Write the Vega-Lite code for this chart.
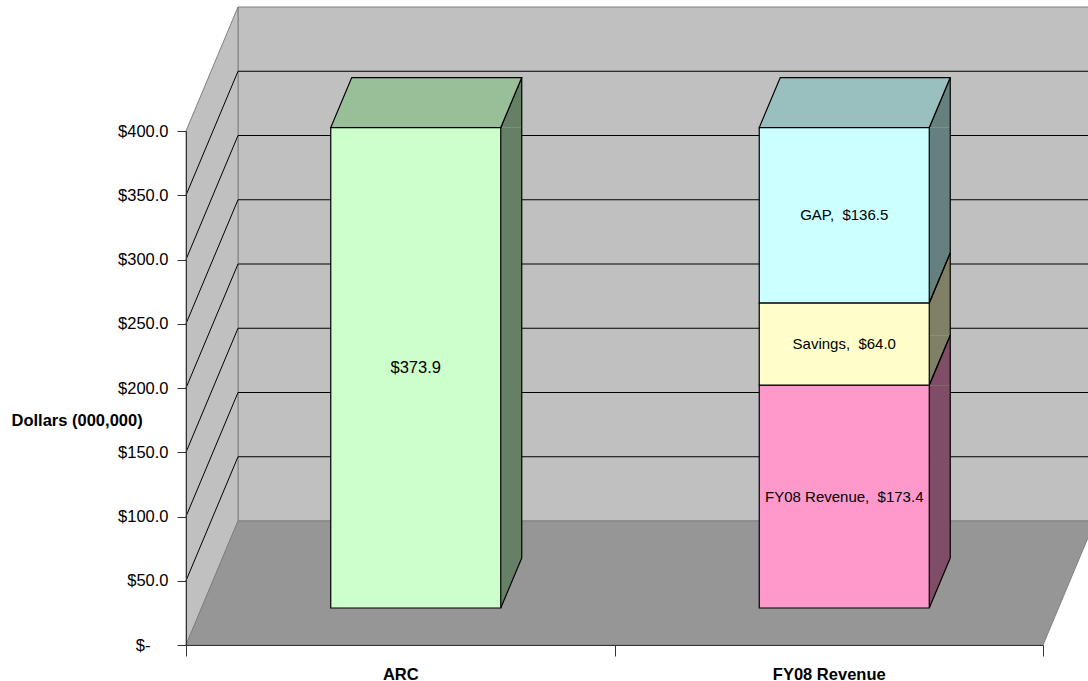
{
  "$schema": "https://vega.github.io/schema/vega-lite/v6.json",
  "width": 857,
  "height": 514,
  "autosize": {"type": "none"},
  "padding": {"left": 186, "top": 131, "right": 45, "bottom": 36},
  "background": "white",
  "config": {"view": {"stroke": null}, "font": "Liberation Sans"},
  "datasets": {
    "bars": [
      {"category": "ARC", "segment": "ARC", "order": 1, "value": 373.9, "label": "$373.9"},
      {"category": "FY08 Revenue", "segment": "FY08 Revenue", "order": 1, "value": 173.4, "label": "FY08 Revenue, \u00a0$173.4"},
      {"category": "FY08 Revenue", "segment": "Savings", "order": 2, "value": 64.0, "label": "Savings, \u00a0$64.0"},
      {"category": "FY08 Revenue", "segment": "GAP", "order": 3, "value": 136.5, "label": "GAP, \u00a0$136.5"}
    ],
    "grid": [{"v": 50}, {"v": 100}, {"v": 150}, {"v": 200}, {"v": 250}, {"v": 300}, {"v": 350}]
  },
  "resolve": {"scale": {"fill": "independent"}},
  "layer": [
    {
      "data": {"values": [{}]},
      "mark": {"type": "point", "shape": "M-162.25 -124 L694.75 -124 L694.75 -638 L-162.25 -638 Z", "size": 4, "filled": true, "fill": "#c0c0c0", "stroke": "#808080", "strokeWidth": 1, "opacity": 1},
      "encoding": {
        "x": {"datum": "ARC", "type": "nominal", "scale": {"type": "band", "domain": ["ARC", "FY08 Revenue"], "paddingInner": 0, "paddingOuter": 0},
          "axis": {"title": null, "tickBand": "extent", "labelAngle": 0, "labelFont": "Liberation Sans", "labelFontSize": 16.5, "labelFontWeight": "bold", "labelColor": "#000000", "labelBaseline": "top", "tickSize": 11, "labelPadding": 10, "domainColor": "#333333", "tickColor": "#333333", "grid": false, "zindex": 1}},
        "y": {"datum": 0, "type": "quantitative", "scale": {"domain": [0, 400], "nice": false, "zero": true},
          "axis": {"values": [0, 50, 100, 150, 200, 250, 300, 350, 400], "labelExpr": "datum.value == 0 ? '$-' : '$' + format(datum.value, ',.1f')", "labelFont": "Liberation Sans", "labelFontSize": 16.5, "labelColor": "#000000", "labelPadding": {"condition": {"test": "datum.value == 0", "value": 27}, "value": 9}, "tickSize": 9, "tickColor": "#333333", "domainColor": "#333333", "grid": false, "zindex": 1, "labelOverlap": false, "labelFlush": false,
            "title": "Dollars (000,000)", "titleAngle": 0, "titleAlign": "left", "titleBaseline": "middle", "titleX": -175, "titleY": 289, "titleFont": "Liberation Sans", "titleFontSize": 16.5, "titleFontWeight": "bold", "titleColor": "#000000"}}
      }
    },
    {
      "data": {"values": [{}]},
      "mark": {"type": "point", "shape": "M-214.25 0 L-214.25 -514 L-162.25 -638 L-162.25 -124 Z", "size": 4, "filled": true, "fill": "#c0c0c0", "stroke": "#808080", "strokeWidth": 1, "opacity": 1},
      "encoding": {
        "x": {"datum": "ARC", "type": "nominal"},
        "y": {"datum": 0, "type": "quantitative"}
      }
    },
    {
      "data": {"values": [{}]},
      "mark": {"type": "point", "shape": "M-214.25 0 L642.75 0 L694.75 -124 L-162.25 -124 Z", "size": 4, "filled": true, "fill": "#969696", "stroke": "#808080", "strokeWidth": 1, "opacity": 1},
      "encoding": {
        "x": {"datum": "ARC", "type": "nominal"},
        "y": {"datum": 0, "type": "quantitative"}
      }
    },
    {
      "data": {"name": "grid"},
      "mark": {"type": "point", "shape": "M-214.25 0 L-162.25 -124 L694.75 -124", "size": 4, "filled": false, "stroke": "#000000", "strokeWidth": 1, "opacity": 1},
      "encoding": {
        "x": {"datum": "ARC", "type": "nominal"},
        "y": {"field": "v", "type": "quantitative"}
      }
    },
    {
      "data": {"name": "bars"},
      "transform": [{"stack": "value", "groupby": ["category"], "sort": [{"field": "order", "order": "ascending"}], "as": ["y0", "y1"]}],
      "mark": {"type": "bar", "width": 21, "xOffset": 111, "yOffset": -37, "y2Offset": -87, "strokeWidth": 0},
      "encoding": {
        "x": {"field": "category", "type": "nominal"},
        "y": {"field": "y1", "type": "quantitative"},
        "y2": {"field": "y0"},
        "fill": {"field": "segment", "type": "nominal", "scale": {"domain": ["ARC", "FY08 Revenue", "Savings", "GAP"], "range": ["#668066", "#804d66", "#808066", "#668080"]}, "legend": null}
      }
    },
    {
      "data": {"name": "bars"},
      "transform": [{"stack": "value", "groupby": ["category"], "sort": [{"field": "order", "order": "ascending"}], "as": ["y0", "y1"]}],
      "mark": {"type": "point", "shape": "M0 0 L21 -50 L21 0 Z", "size": 4, "filled": true, "strokeWidth": 0, "opacity": 1, "xOffset": 100.5, "yOffset": -37},
      "encoding": {
        "x": {"field": "category", "type": "nominal"},
        "y": {"field": "y1", "type": "quantitative"},
        "fill": {"field": "segment", "type": "nominal", "scale": {"domain": ["ARC", "FY08 Revenue", "Savings", "GAP"], "range": ["#668066", "#804d66", "#808066", "#668080"]}, "legend": null}
      }
    },
    {
      "data": {"name": "bars"},
      "transform": [{"stack": "value", "groupby": ["category"], "sort": [{"field": "order", "order": "ascending"}], "as": ["y0", "y1"]}],
      "mark": {"type": "point", "shape": "M0 0 L0 -50 L21 -50 Z", "size": 4, "filled": true, "strokeWidth": 0, "opacity": 1, "xOffset": 100.5, "yOffset": -37},
      "encoding": {
        "x": {"field": "category", "type": "nominal"},
        "y": {"field": "y0", "type": "quantitative"},
        "fill": {"field": "segment", "type": "nominal", "scale": {"domain": ["ARC", "FY08 Revenue", "Savings", "GAP"], "range": ["#668066", "#804d66", "#808066", "#668080"]}, "legend": null}
      }
    },
    {
      "data": {"name": "bars"},
      "transform": [{"stack": "value", "groupby": ["category"], "sort": [{"field": "order", "order": "ascending"}], "as": ["y0", "y1"]}],
      "mark": {"type": "point", "shape": "M0 0 L21 -50", "size": 4, "filled": false, "stroke": "#000000", "strokeWidth": 1.2, "opacity": 1, "xOffset": 100.5, "yOffset": -37},
      "encoding": {
        "x": {"field": "category", "type": "nominal"},
        "y": {"field": "y1", "type": "quantitative"}
      }
    },
    {
      "data": {"name": "bars"},
      "transform": [{"stack": "value", "groupby": ["category"], "sort": [{"field": "order", "order": "ascending"}], "as": ["y0", "y1"]}],
      "mark": {"type": "point", "shape": "M0 0 L21 -50", "size": 4, "filled": false, "stroke": "#000000", "strokeWidth": 1.2, "opacity": 1, "xOffset": 100.5, "yOffset": -37},
      "encoding": {
        "x": {"field": "category", "type": "nominal"},
        "y": {"field": "y0", "type": "quantitative"}
      }
    },
    {
      "data": {"name": "bars"},
      "transform": [{"stack": "value", "groupby": ["category"], "sort": [{"field": "order", "order": "ascending"}], "as": ["y0", "y1"]}],
      "mark": {"type": "rule", "color": "#000000", "strokeWidth": 1.2, "xOffset": 121.5, "yOffset": -87, "y2Offset": -87},
      "encoding": {
        "x": {"field": "category", "type": "nominal"},
        "y": {"field": "y1", "type": "quantitative"},
        "y2": {"field": "y0"}
      }
    },
    {
      "data": {"name": "bars"},
      "transform": [
        {"stack": "value", "groupby": ["category"], "sort": [{"field": "order", "order": "ascending"}], "as": ["y0", "y1"]},
        {"filter": "datum.segment === 'ARC' || datum.segment === 'GAP'"}
      ],
      "mark": {"type": "point", "shape": "M-85 0 L85 0 L106 -50 L-64 -50 Z", "size": 4, "filled": true, "stroke": "#000000", "strokeWidth": 1.2, "opacity": 1, "xOffset": 15.5, "yOffset": -37},
      "encoding": {
        "x": {"field": "category", "type": "nominal"},
        "y": {"field": "y1", "type": "quantitative"},
        "fill": {"field": "segment", "type": "nominal", "scale": {"domain": ["ARC", "GAP"], "range": ["#99bf99", "#99bfbf"]}, "legend": null}
      }
    },
    {
      "data": {"name": "bars"},
      "transform": [{"stack": "value", "groupby": ["category"], "sort": [{"field": "order", "order": "ascending"}], "as": ["y0", "y1"]}],
      "mark": {"type": "bar", "width": 170, "xOffset": 15.5, "yOffset": -37, "y2Offset": -37, "stroke": "#000000", "strokeWidth": 1.2},
      "encoding": {
        "x": {"field": "category", "type": "nominal"},
        "y": {"field": "y1", "type": "quantitative"},
        "y2": {"field": "y0"},
        "fill": {"field": "segment", "type": "nominal", "scale": {"domain": ["ARC", "FY08 Revenue", "Savings", "GAP"], "range": ["#ccffcc", "#ff99cc", "#ffffcc", "#ccffff"]}, "legend": null}
      }
    },
    {
      "data": {"name": "bars"},
      "transform": [
        {"stack": "value", "groupby": ["category"], "sort": [{"field": "order", "order": "ascending"}], "as": ["y0", "y1"]},
        {"fold": ["y0", "y1"], "as": ["k", "v"]},
        {"aggregate": [{"op": "mean", "field": "v", "as": "mid"}], "groupby": ["category", "segment", "label"]}
      ],
      "mark": {"type": "text", "font": "Liberation Sans", "color": "#000000", "align": "center", "baseline": "middle", "xOffset": 15.5, "yOffset": -37},
      "encoding": {
        "x": {"field": "category", "type": "nominal"},
        "y": {"field": "mid", "type": "quantitative"},
        "text": {"field": "label"},
        "size": {"condition": {"test": "datum.segment === 'ARC'", "value": 16.5}, "value": 15}
      }
    }
  ]
}
